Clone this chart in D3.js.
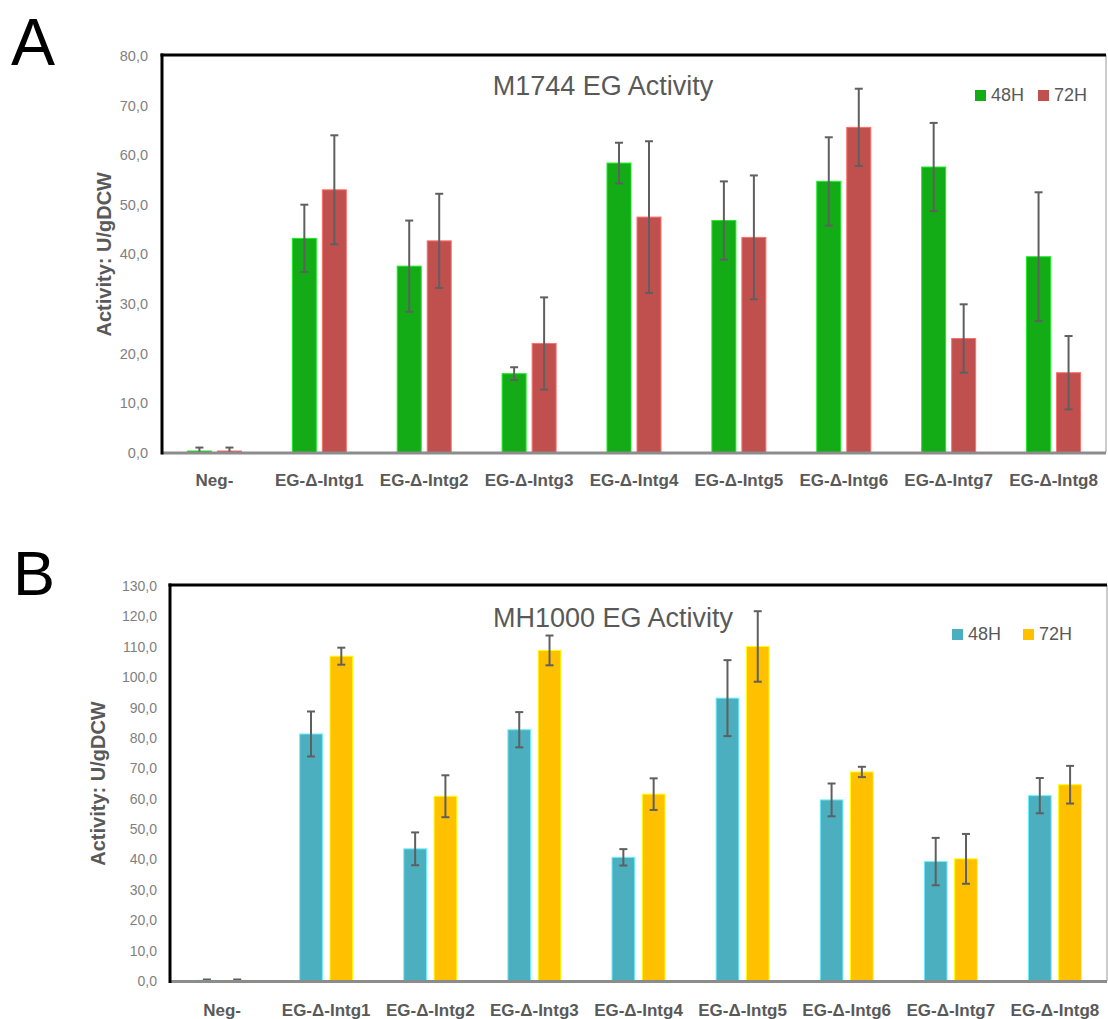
<!DOCTYPE html>
<html>
<head>
<meta charset="utf-8">
<script src="https://cdn.jsdelivr.net/npm/d3@7"></script>
<style>
  body { margin: 0; background: #fff; }
  svg { display: block; font-family: "Liberation Sans", Arial, sans-serif; }
</style>
</head>
<body>
<div id="chart"></div>
<script>
const categories = ['Neg-', 'EG-Δ-Intg1', 'EG-Δ-Intg2', 'EG-Δ-Intg3', 'EG-Δ-Intg4',
                    'EG-Δ-Intg5', 'EG-Δ-Intg6', 'EG-Δ-Intg7', 'EG-Δ-Intg8']
const series = ['48H', '72H']

// panel A: M1744
const a48 = [0.3, 43.2, 37.6, 15.9, 58.4, 46.8, 54.7, 57.6, 39.5]
const a48err = [0.7, 6.8, 9.2, 1.3, 4.1, 7.9, 8.9, 8.9, 13.0]
const a72 = [0.3, 53.0, 42.7, 22.0, 47.5, 43.4, 65.6, 23.0, 16.1]
const a72err = [0.7, 11.0, 9.5, 9.3, 15.3, 12.5, 7.8, 6.9, 7.4]
const aTicks = [0, 10, 20, 30, 40, 50, 60, 70, 80]

// panel B: MH1000
const b48 = [0.2, 81.3, 43.5, 82.7, 40.7, 93.1, 59.6, 39.3, 61.0]
const b48err = [0.3, 7.4, 5.4, 5.8, 2.7, 12.5, 5.4, 7.8, 5.8]
const b72 = [0.2, 106.9, 60.8, 108.8, 61.5, 110.1, 68.8, 40.2, 64.6]
const b72err = [0.3, 2.8, 6.9, 4.9, 5.2, 11.6, 1.7, 8.2, 6.2]
const bTicks = [0, 10, 20, 30, 40, 50, 60, 70, 80, 90, 100, 110, 120, 130]

const w = 1108
const h = 1019

const svg = d3.select('#chart')
  .append('svg')
  .attr('width', w)
  .attr('height', h)

svg.append('rect').attr('width', w).attr('height', h).attr('fill', '#fff')

const fmt = d => d3.format('.1f')(d).replace('.', ',')

function panel(opt) {
  const g = svg.append('g')

  const x0 = d3.scaleBand()
    .domain(categories)
    .range([opt.left, opt.right])

  const x1 = d3.scaleBand()
    .domain(series)
    .range([0, opt.group])
    .paddingInner(opt.gap)

  const off = (x0.bandwidth() - opt.group) / 2

  const y = d3.scaleLinear()
    .domain([0, opt.max])
    .range([opt.bottom, opt.top])

  // y tick labels
  const yAxis = d3.axisLeft(y)
    .tickValues(opt.ticks)
    .tickFormat(fmt)
    .tickSize(0)
    .tickPadding(opt.tickPad)

  const ya = g.append('g')
    .attr('transform', `translate(${opt.left}, 0)`)
    .call(yAxis)
  ya.select('.domain').remove()
  ya.selectAll('text')
    .attr('fill', '#7f7f7f')
    .style('font-size', opt.tickSize + 'px')

  // category labels
  const xAxis = d3.axisBottom(x0).tickSize(0).tickPadding(opt.catPad)
  const xa = g.append('g')
    .attr('transform', `translate(0, ${opt.bottom})`)
    .call(xAxis)
  xa.select('.domain').remove()
  xa.selectAll('text')
    .attr('fill', '#595959')
    .style('font-size', '17px')
    .style('font-weight', 'bold')

  const rows = []
  categories.forEach((c, i) => {
    rows.push({ cat: c, s: '48H', v: opt.v48[i], e: opt.e48[i], col: opt.colors[0] })
    rows.push({ cat: c, s: '72H', v: opt.v72[i], e: opt.e72[i], col: opt.colors[1] })
  })

  g.selectAll('rect.bar')
    .data(rows)
    .enter()
    .append('rect')
    .attr('class', 'bar')
    .attr('x', d => x0(d.cat) + off + x1(d.s))
    .attr('width', x1.bandwidth())
    .attr('y', d => y(d.v))
    .attr('height', d => y(0) - y(d.v))
    .attr('fill', d => d.col)
    .attr('stroke', d => d3.color(d.col).brighter(0.9))
    .attr('stroke-width', 1)

  // error bars
  const eb = g.selectAll('g.err')
    .data(rows)
    .enter()
    .append('g')
    .attr('class', 'err')
    .attr('stroke', '#5f5f5f')
    .attr('stroke-width', 2)
  const cx = d => x0(d.cat) + off + x1(d.s) + x1.bandwidth() / 2
  eb.append('line')
    .attr('x1', cx).attr('x2', cx)
    .attr('y1', d => y(d.v + d.e)).attr('y2', d => y(Math.max(0, d.v - d.e)))
  eb.append('line')
    .attr('x1', d => cx(d) - 4).attr('x2', d => cx(d) + 4)
    .attr('y1', d => y(d.v + d.e)).attr('y2', d => y(d.v + d.e))
  eb.filter(d => d.v - d.e > 0).append('line')
    .attr('x1', d => cx(d) - 4).attr('x2', d => cx(d) + 4)
    .attr('y1', d => y(d.v - d.e)).attr('y2', d => y(d.v - d.e))

  // frame
  g.append('line')
    .attr('x1', opt.right).attr('x2', opt.right)
    .attr('y1', opt.top - 1).attr('y2', opt.bottom)
    .attr('stroke', '#9a9a9a').attr('stroke-width', 1)
  g.append('line')
    .attr('x1', opt.left).attr('x2', opt.right)
    .attr('y1', opt.bottom + 0.5).attr('y2', opt.bottom + 0.5)
    .attr('stroke', '#8c8c8c').attr('stroke-width', 3)
  g.append('line')
    .attr('x1', opt.left - 1.5).attr('x2', opt.right)
    .attr('y1', opt.top - 1).attr('y2', opt.top - 1)
    .attr('stroke', '#000').attr('stroke-width', 3)
  g.append('line')
    .attr('x1', opt.left).attr('x2', opt.left)
    .attr('y1', opt.top - 2.5).attr('y2', opt.bottom + 2)
    .attr('stroke', '#000').attr('stroke-width', 3)

  // title
  g.append('text')
    .attr('x', opt.titleX)
    .attr('y', opt.titleY)
    .attr('text-anchor', 'middle')
    .attr('fill', '#595959')
    .style('font-size', '27px')
    .text(opt.title)

  // y axis title
  g.append('text')
    .attr('transform', `translate(${opt.ytX}, ${(opt.top + opt.bottom) / 2}) rotate(-90)`)
    .attr('text-anchor', 'middle')
    .attr('fill', '#595959')
    .style('font-size', '20px')
    .style('font-weight', 'bold')
    .text('Activity: U/gDCW')

  // legend
  const lg = g.selectAll('g.leg')
    .data(series)
    .enter()
    .append('g')
    .attr('class', 'leg')
    .attr('transform', (d, i) => `translate(${opt.legX[i]}, ${opt.legY})`)
  lg.append('rect')
    .attr('x', 0).attr('y', -11)
    .attr('width', 11).attr('height', 11)
    .attr('fill', (d, i) => opt.colors[i])
  lg.append('text')
    .attr('x', 16)
    .attr('y', 0)
    .attr('fill', '#595959')
    .style('font-size', '18px')
    .text(d => d)

  // panel letter
  g.append('text')
    .attr('x', opt.letterX)
    .attr('y', opt.letterY)
    .attr('fill', '#000')
    .style('font-size', opt.letterSize + 'px')
    .text(opt.letter)
}

panel({
  letter: 'A', letterX: 11, letterY: 65, letterSize: 66,
  title: 'M1744 EG Activity', titleX: 603, titleY: 95,
  left: 162, right: 1106, top: 56, bottom: 452.5, max: 80,
  ticks: aTicks, tickPad: 14, tickSize: 14.5, catPad: 21.5,
  group: 54, gap: 0.2,
  v48: a48, e48: a48err, v72: a72, e72: a72err,
  colors: ['#13ac17', '#c0504d'],
  legX: [975, 1038], legY: 101,
  ytX: 111
})

panel({
  letter: 'B', letterX: 13, letterY: 595, letterSize: 63,
  title: 'MH1000 EG Activity', titleX: 613, titleY: 627,
  left: 170, right: 1107, top: 586, bottom: 981, max: 130,
  ticks: bTicks, tickPad: 13, tickSize: 14, catPad: 23,
  group: 53, gap: 0.25,
  v48: b48, e48: b48err, v72: b72, e72: b72err,
  colors: ['#4bafbf', '#ffc000'],
  legX: [952, 1023], legY: 640,
  ytX: 105
})
</script>
</body>
</html>
